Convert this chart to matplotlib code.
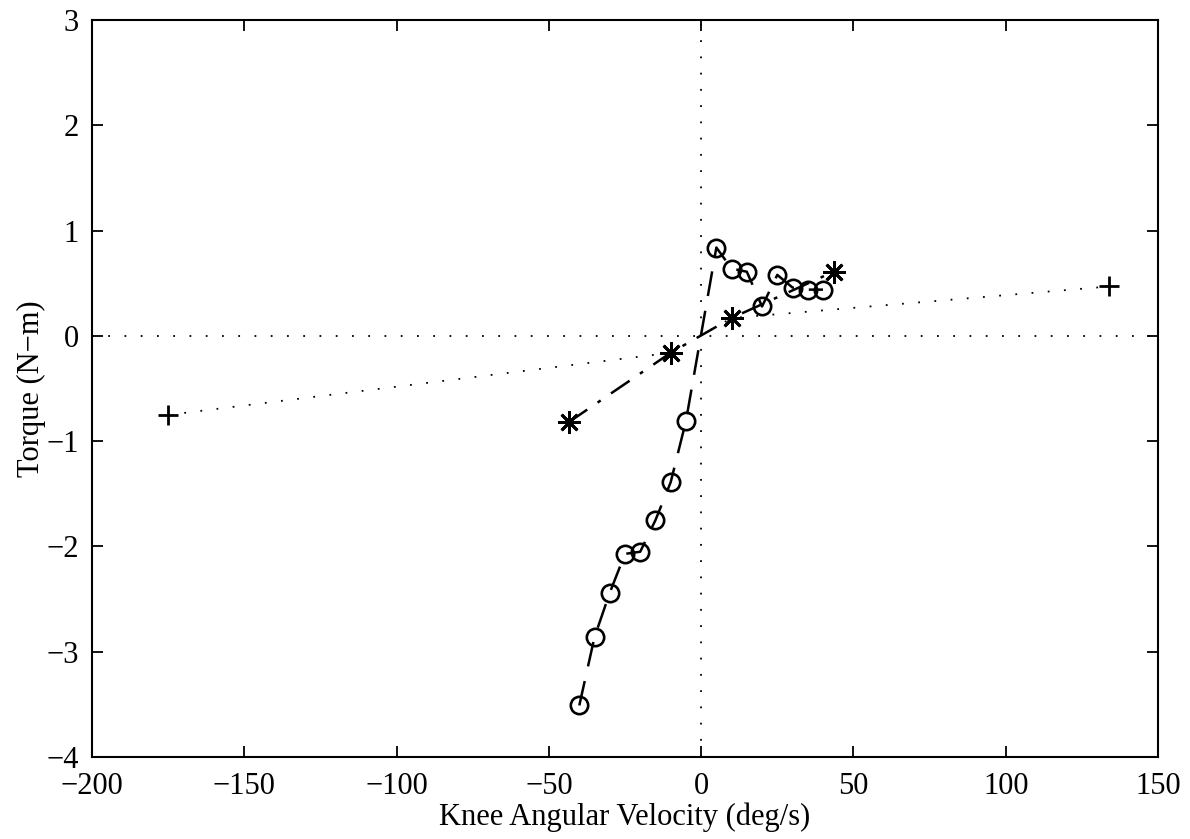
import matplotlib
matplotlib.use("Agg")
import matplotlib.pyplot as plt

plt.rcParams['font.family'] = ['Liberation Serif', 'DejaVu Serif']
plt.rcParams['axes.unicode_minus'] = True

# Measured knee torque vs. angular velocity
circ_vel = [-40, -35, -30, -25, -20, -15, -10, -5, 5, 10, 15, 20, 25, 30, 35, 40]
circ_torque = [-3.51, -2.86, -2.44, -2.07, -2.05, -1.75, -1.39, -0.81,
               0.84, 0.64, 0.61, 0.28, 0.58, 0.46, 0.44, 0.44]

star_vel = [-43.5, -10, 10, 43.5]
star_torque = [-0.82, -0.16, 0.17, 0.61]

plus_vel = [-175, -10, 10, 134]
plus_torque = [-0.75, -0.16, 0.17, 0.47]

xticks = [-200, -150, -100, -50, 0, 50, 100, 150]
yticks = [-4, -3, -2, -1, 0, 1, 2, 3]

fig = plt.figure(figsize=(11.9, 8.39), dpi=100)
ax = fig.add_axes([0.0773, 0.0977, 0.8958, 0.8783])

# zero reference lines
ax.axhline(0, color='black', lw=1.3, dashes=(1, 8))
ax.axvline(0, color='black', lw=1.3, dashes=(1, 8))

ax.plot(plus_vel, plus_torque, color='black', lw=1.3, dashes=(1, 8),
        marker='+', markersize=15, markeredgewidth=2, markevery=[0, len(plus_vel) - 1])
ax.plot(star_vel, star_torque, color='black', lw=1.8, dashes=(9, 5, 1.5, 5),
        marker=(8, 2, 0), markersize=16, markeredgewidth=2)
ax.plot(circ_vel, circ_torque, color='black', lw=1.8, dashes=(10, 6),
        marker='o', markersize=12.5, markerfacecolor='none', markeredgewidth=1.9)

ax.set_xlim(-200, 150)
ax.set_ylim(-4, 3)
ax.set_xticks(xticks)
ax.set_yticks(yticks)
ax.tick_params(direction='in', length=8, width=1.3, labelsize=22,
               top=True, right=True)
ax.tick_params(axis='x', pad=11)
ax.tick_params(axis='y', pad=9.5)
for s in ax.spines.values():
    s.set_linewidth(1.5)

ax.set_xlabel('Knee Angular Velocity (deg/s)', fontsize=22, labelpad=1)
ax.set_ylabel('Torque (N\u2212m)', fontsize=22, labelpad=0)

fig.savefig('out.png', dpi=100)
